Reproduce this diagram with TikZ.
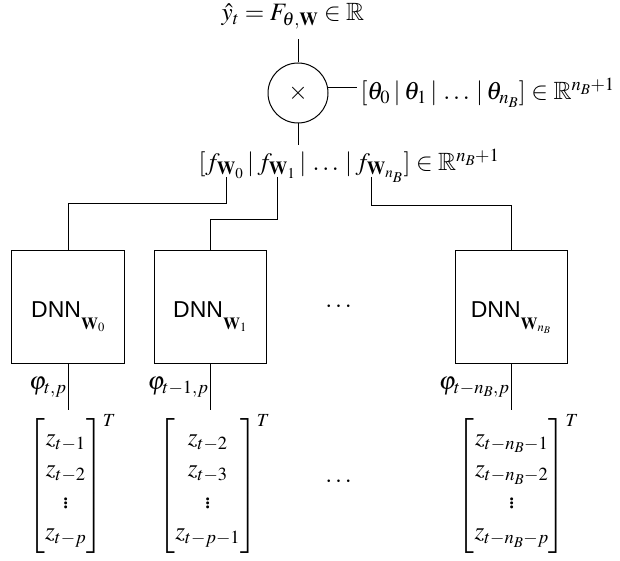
\documentclass[tikz,border=0pt]{standalone}
\usepackage{amsmath}
\usepackage{mathptmx}
\usepackage{amssymb}
\usepackage{fontspec}
\setmainfont{Liberation Serif}
\newfontfamily\dnnfont{Liberation Sans}
\newcommand\dnnsub[1]{\raisebox{-12bp}{\fontsize{17bp}{20bp}\selectfont$\mathbf{W}_{#1}$}}
\newcommand\tsup{\makebox[0pt][l]{$\scriptstyle T$}}
\newcommand\sep{\:|\:}
\begin{document}
\begin{tikzpicture}[x=1bp,y=-1bp,line width=1bp,
  every node/.style={font=\fontsize{25bp}{31.5bp}\selectfont},
  dnnbox/.style={draw, minimum size=112bp, inner sep=0pt, text height=20bp, text depth=0bp,
    font=\fontsize{23bp}{27bp}\selectfont\dnnfont},
  lbl/.style={inner sep=3bp}]
\useasboundingbox (0,0) rectangle (620,561);
% top part
\node[anchor=base, inner sep=0pt] (yhat) at (293,21) {$\hat{y}_t = F_{\theta,\mathbf{W}} \in \mathbb{R}$};
\node[draw, circle, minimum size=60bp, inner sep=0pt] (mult) at (298,93) {$\times$};
\node[lbl, anchor=base west] (theta) at (357,100) {$[\theta_0\sep\theta_1\sep\ldots\sep\theta_{n_B}] \in \mathbb{R}^{n_B+1}$};
\node[lbl, anchor=base west] (flab) at (195,171) {$[f_{\mathbf{W}_0}\sep f_{\mathbf{W}_1}\sep\ldots\sep f_{\mathbf{W}_{n_B}}] \in \mathbb{R}^{n_B+1}$};
\coordinate (ytop) at (298,39);
\coordinate (fbot) at (298,145);
\coordinate (c0) at (226,177);
\coordinate (c1) at (277,177);
\coordinate (c2) at (371,177);
% DNN boxes
\node[dnnbox] (b0) at (68,307) {DNN\dnnsub{0}};
\node[dnnbox] (b1) at (210,307) {DNN\dnnsub{1}};
\node[dnnbox] (b2) at (511,307) {DNN\dnnsub{n_B}};
\node (d1) at (340,307) {$\cdots$};
% input vectors
\node (m0) at (66,484) {$\begin{bmatrix} z_{t-1}\\ z_{t-2}\\ \vdots\\ z_{t-p}\end{bmatrix}^{\tsup}$};
\node (m1) at (208,484) {$\begin{bmatrix} z_{t-2}\\ z_{t-3}\\ \vdots\\ z_{t-p-1}\end{bmatrix}^{\tsup}$};
\node (m2) at (512,484) {$\begin{bmatrix} z_{t-n_B-1}\\ z_{t-n_B-2}\\ \vdots\\ z_{t-n_B-p}\end{bmatrix}^{\tsup}$};
\node (d2) at (340,482) {$\cdots$};
% connectors
\draw (mult.north) -- (ytop);
\draw (mult.south) -- (fbot);
\draw (mult.10) -- (mult.10 -| theta.west);
\draw (c0) -- ++(0,27) -| (b0.north);
\draw (c1) -- ++(0,43) -| (b1.north);
\draw (c2) -- ++(0,29) -| (b2.north);
\draw (b0.south) -- node[left, inner sep=1bp] {$\varphi_{t,p}$} (b0.south |- m0.north);
\draw (b1.south) -- node[left, inner sep=1bp] {$\varphi_{t-1,p}$} (b1.south |- m1.north);
\draw (b2.south) -- node[left, inner sep=1bp] {$\varphi_{t-n_B,p}$} (b2.south |- m2.north);
\end{tikzpicture}
\end{document}
